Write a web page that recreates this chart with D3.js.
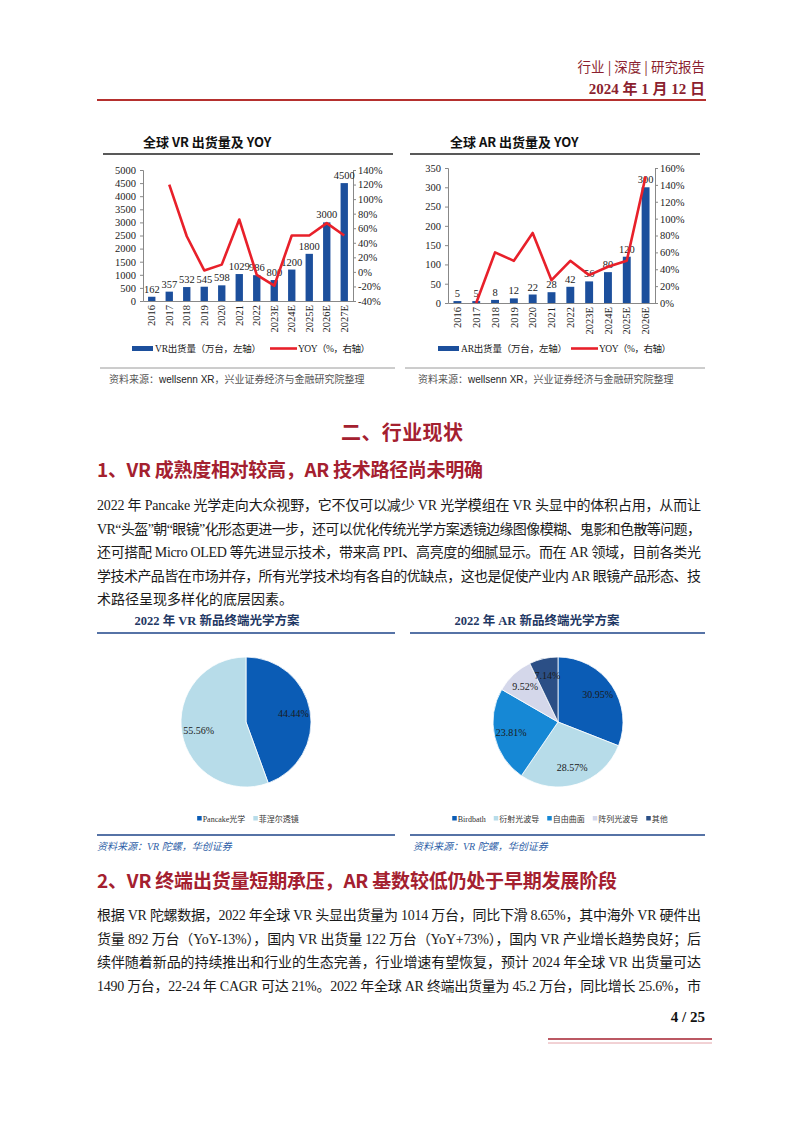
<!DOCTYPE html>
<html>
<head>
<meta charset="utf-8">
<script src="https://cdn.jsdelivr.net/npm/d3@7"></script>
<style>
    html, body { margin: 0; padding: 0; background: #fff; }
    svg { display: block; }
</style>
</head>
<body>
<div id="page"></div>
<script>
// ── Data ──
const vrYears = ['2016', '2017', '2018', '2019', '2020', '2021', '2022', '2023E', '2024E', '2025E', '2026E', '2027E'];
const vrShipments = [162, 357, 532, 545, 598, 1029, 986, 800, 1200, 1800, 3000, 4500];
const vrYoy = [null, 120, 49, 2, 10, 72, -4, -19, 50, 50, 67, 50];
const vrLeftTicks = [0, 500, 1000, 1500, 2000, 2500, 3000, 3500, 4000, 4500, 5000];
const vrRightTicks = [-40, -20, 0, 20, 40, 60, 80, 100, 120, 140];

const arYears = ['2016', '2017', '2018', '2019', '2020', '2021', '2022', '2023E', '2024E', '2025E', '2026E'];
const arShipments = [5, 5, 8, 12, 22, 28, 42, 56, 80, 120, 300];
const arYoy = [null, 0, 60, 50, 83, 27, 50, 33, 43, 50, 150];
const arLeftTicks = [0, 50, 100, 150, 200, 250, 300, 350];
const arRightTicks = [0, 20, 40, 60, 80, 100, 120, 140, 160];

const vrOptics = ['Pancake光学', '菲涅尔透镜'];
const vrOpticsShare = [44.44, 55.56];
const arOptics = ['Birdbath', '衍射光波导', '自由曲面', '阵列光波导', '其他'];
const arOpticsShare = [30.95, 28.57, 23.81, 9.52, 7.14];

const para1 = [
    '2022 年 Pancake 光学走向大众视野，它不仅可以减少 VR 光学模组在 VR 头显中的体积占用，从而让',
    'VR“头盔”朝“眼镜”化形态更进一步，还可以优化传统光学方案透镜边缘图像模糊、鬼影和色散等问题，',
    '还可搭配 Micro OLED 等先进显示技术，带来高 PPI、高亮度的细腻显示。而在 AR 领域，目前各类光',
    '学技术产品皆在市场并存，所有光学技术均有各自的优缺点，这也是促使产业内 AR 眼镜产品形态、技',
    '术路径呈现多样化的底层因素。',
];
const para2 = [
    '根据 VR 陀螺数据，2022 年全球 VR 头显出货量为 1014 万台，同比下滑 8.65%，其中海外 VR 硬件出',
    '货量 892 万台（YoY-13%），国内 VR 出货量 122 万台（YoY+73%），国内 VR 产业增长趋势良好；后',
    '续伴随着新品的持续推出和行业的生态完善，行业增速有望恢复，预计 2024 年全球 VR 出货量可达',
    '1490 万台，22-24 年 CAGR 可达 21%。2022 年全球 AR 终端出货量为 45.2 万台，同比增长 25.6%，市',
];

// ── Page setup ──
const W = 802, H = 1133;
const SERIF = '"Liberation Serif", "Noto Sans CJK SC", serif';
const SANS = '"Noto Sans CJK SC", "Liberation Sans", sans-serif';
const RED = '#a4202f';
const BAR_BLUE = '#1c4f9c';
const LINE_RED = '#e8202a';
const NAVY = '#1f3864';
const RULE_BLUE = '#5673a6';

const svg = d3.select('#page').append('svg')
    .attr('width', W)
    .attr('height', H);

// Header
svg.append('text')
    .attr('x', 705).attr('y', 72)
    .attr('text-anchor', 'end')
    .attr('font-family', SANS).attr('font-size', 13.5)
    .attr('fill', '#8b1f2f')
    .text('行业 | 深度 | 研究报告');
svg.append('text')
    .attr('x', 705).attr('y', 94)
    .attr('text-anchor', 'end')
    .attr('font-family', SERIF).attr('font-size', 15).attr('font-weight', 700)
    .attr('fill', '#8b1f2f')
    .text('2024 年 1 月 12 日');
svg.append('line')
    .attr('x1', 97).attr('x2', 706).attr('y1', 100).attr('y2', 100)
    .attr('stroke', '#b5302e').attr('stroke-width', 2.2);

// ── Bar + line combo chart ──
function drawCombo(o) {
    const g = svg.append('g');

    g.append('text')
        .attr('x', o.titleX).attr('y', 147)
        .attr('font-family', SANS).attr('font-weight', 700).attr('font-size', 13)
        .attr('fill', '#111')
        .text(o.title);
    g.append('line')
        .attr('x1', o.sepX0).attr('x2', o.sepX1).attr('y1', 154).attr('y2', 154)
        .attr('stroke', '#222').attr('stroke-width', 1.4);

    const x = d3.scaleBand().domain(o.cats).range([o.x0, o.x1])
        .paddingInner(0.58).paddingOuter(0.29);
    const yL = d3.scaleLinear().domain([o.leftTicks[0], o.leftTicks[o.leftTicks.length - 1]]).range([o.yB, o.yT]);
    const yR = d3.scaleLinear().domain([o.rightTicks[0], o.rightTicks[o.rightTicks.length - 1]]).range([o.yB, o.yT]);

    const axL = g.append('g').attr('transform', `translate(${o.x0},0)`)
        .call(d3.axisLeft(yL).tickValues(o.leftTicks).tickSize(3).tickPadding(4).tickFormat(d => String(d)));
    const axR = g.append('g').attr('transform', `translate(${o.x1},0)`)
        .call(d3.axisRight(yR).tickValues(o.rightTicks).tickSize(3).tickPadding(2).tickFormat(d => d + '%'));
    const axB = g.append('g').attr('transform', `translate(0,${o.yB})`)
        .call(d3.axisBottom(x).tickSize(0).tickSizeOuter(0));
    axB.selectAll('text')
        .attr('transform', 'rotate(-90)')
        .attr('text-anchor', 'end')
        .attr('x', -4).attr('y', 0).attr('dy', '0.35em');

    [axL, axR, axB].forEach(a => {
        a.selectAll('text')
            .attr('font-family', SERIF).attr('font-size', 10.5).attr('fill', '#222');
        a.select('.domain').attr('stroke', '#888');
        a.selectAll('.tick line').attr('stroke', '#888');
    });

    // Bars
    g.append('g').selectAll('rect')
        .data(o.values)
        .join('rect')
        .attr('x', (d, i) => x(o.cats[i]))
        .attr('y', d => yL(d))
        .attr('width', x.bandwidth())
        .attr('height', d => yL(0) - yL(d))
        .attr('fill', BAR_BLUE);

    // Value labels
    g.append('g').selectAll('text')
        .data(o.values)
        .join('text')
        .attr('x', (d, i) => x(o.cats[i]) + x.bandwidth() / 2)
        .attr('y', d => yL(d) - 4)
        .attr('text-anchor', 'middle')
        .attr('font-family', SERIF).attr('font-size', 10.5).attr('fill', '#222')
        .text(d => d);

    // YOY line
    const line = d3.line()
        .defined(d => d != null)
        .x((d, i) => x(o.cats[i]) + x.bandwidth() / 2)
        .y(d => yR(d));
    g.append('path')
        .datum(o.yoy)
        .attr('d', line)
        .attr('fill', 'none')
        .attr('stroke', LINE_RED)
        .attr('stroke-width', 2.6)
        .attr('stroke-linejoin', 'round');

    // Legend
    g.append('rect')
        .attr('x', o.legRectX).attr('y', 346).attr('width', 21).attr('height', 5)
        .attr('fill', BAR_BLUE);
    g.append('text')
        .attr('x', o.legRectX + 23).attr('y', 352)
        .attr('font-family', SERIF).attr('font-size', 9.5).attr('fill', '#222')
        .attr('textLength', 106)
        .text(o.barLegend);
    g.append('line')
        .attr('x1', o.legLineX).attr('x2', o.legLineX + 27).attr('y1', 348.5).attr('y2', 348.5)
        .attr('stroke', LINE_RED).attr('stroke-width', 2.6);
    g.append('text')
        .attr('x', o.legLineX + 28).attr('y', 352)
        .attr('font-family', SERIF).attr('font-size', 9.5).attr('fill', '#222')
        .attr('textLength', 72)
        .text('YOY（%，右轴）');

    // Bottom rule + source
    g.append('line')
        .attr('x1', o.botX0).attr('x2', o.botX1).attr('y1', 368).attr('y2', 368)
        .attr('stroke', '#9a9a9a').attr('stroke-width', 1);
    const src = g.append('text')
        .attr('x', o.srcX).attr('y', 383)
        .attr('font-family', SERIF).attr('font-size', 10).attr('fill', '#555');
    src.append('tspan').text('资料来源：');
    src.append('tspan').attr('font-family', '"Liberation Sans", sans-serif').attr('fill', '#222').text('wellsenn XR');
    src.append('tspan').text('，兴业证券经济与金融研究院整理');
}

drawCombo({
    title: '全球 VR 出货量及 YOY', titleX: 143, sepX0: 103, sepX1: 393,
    cats: vrYears, values: vrShipments, yoy: vrYoy,
    leftTicks: vrLeftTicks, rightTicks: vrRightTicks,
    x0: 143, x1: 353, yT: 170, yB: 301,
    barLegend: 'VR出货量（万台，左轴）', legRectX: 132, legLineX: 270,
    botX0: 100, botX1: 395, srcX: 109,
});

drawCombo({
    title: '全球 AR 出货量及 YOY', titleX: 450, sepX0: 410, sepX1: 700,
    cats: arYears, values: arShipments, yoy: arYoy,
    leftTicks: arLeftTicks, rightTicks: arRightTicks,
    x0: 448, x1: 655, yT: 168, yB: 303,
    barLegend: 'AR出货量（万台，左轴）', legRectX: 438, legLineX: 571,
    botX0: 405, botX1: 705, srcX: 418,
});

// ── Text blocks ──
function heading(txt, x, y, size, len, anchor) {
    const t = svg.append('text')
        .attr('x', x).attr('y', y)
        .attr('text-anchor', anchor || 'start')
        .attr('font-family', SANS).attr('font-weight', 700).attr('font-size', size)
        .attr('fill', RED)
        .text(txt);
    if (len) t.attr('textLength', len).attr('lengthAdjust', 'spacing');
}

function paragraph(lines, y0) {
    lines.forEach((ln, i) => {
        const t = svg.append('text')
            .attr('x', 97).attr('y', y0 + i * 23.6)
            .attr('font-family', SERIF).attr('font-size', 14).attr('fill', '#1a1a1a')
            .text(ln);
        if (i < lines.length - 1 || lines === para2) {
            t.attr('textLength', 604).attr('lengthAdjust', 'spacing');
        }
    });
}

heading('二、行业现状', 402, 440, 20, 122, 'middle');
heading('1、VR 成熟度相对较高，AR 技术路径尚未明确', 97, 477, 19, 386);
paragraph(para1, 510);
heading('2、VR 终端出货量短期承压，AR 基数较低仍处于早期发展阶段', 97, 888, 19, 520);
paragraph(para2, 920);

// ── Pie charts ──
function drawPie(o) {
    const g = svg.append('g');
    const R = 65;

    g.append('text')
        .attr('x', o.titleX).attr('y', 625)
        .attr('text-anchor', 'middle')
        .attr('font-family', SERIF).attr('font-weight', 700).attr('font-size', 12.5)
        .attr('fill', NAVY)
        .text(o.title);
    g.append('line')
        .attr('x1', o.ruleX0).attr('x2', o.ruleX1).attr('y1', 633).attr('y2', 633)
        .attr('stroke', RULE_BLUE).attr('stroke-width', 2);
    g.append('line')
        .attr('x1', o.ruleX0).attr('x2', o.ruleX1).attr('y1', 835).attr('y2', 835)
        .attr('stroke', RULE_BLUE).attr('stroke-width', 2);

    const arcs = d3.pie().sort(null).value(d => d)(o.values);
    const arc = d3.arc().innerRadius(0).outerRadius(R);
    const labelArc = d3.arc().innerRadius(R * 0.74).outerRadius(R * 0.74);

    const pg = g.append('g').attr('transform', `translate(${o.cx},${o.cy})`);
    pg.selectAll('path')
        .data(arcs)
        .join('path')
        .attr('d', arc)
        .attr('fill', (d, i) => o.colors[i])
        .attr('stroke', '#fff')
        .attr('stroke-width', 0.8);
    pg.selectAll('text')
        .data(arcs)
        .join('text')
        .attr('transform', d => `translate(${labelArc.centroid(d)})`)
        .attr('text-anchor', 'middle')
        .attr('dy', '0.35em')
        .attr('font-family', SERIF).attr('font-size', 10).attr('fill', '#1a1a1a')
        .text(d => d.data.toFixed(2) + '%');

    // Legend, centred under the pie
    const lg = g.append('g');
    let cx = 0;
    o.labels.forEach((lab, i) => {
        lg.append('rect')
            .attr('x', cx).attr('y', 816).attr('width', 4.5).attr('height', 4.5)
            .attr('fill', o.colors[i]);
        const t = lg.append('text')
            .attr('x', cx + 5.5).attr('y', 822)
            .attr('font-family', SERIF).attr('font-size', 8).attr('fill', '#333')
            .text(lab);
        cx += 5.5 + t.node().getComputedTextLength() + 8;
    });
    lg.attr('transform', `translate(${o.cx - (cx - 8) / 2 + 2},0)`);

    const src = g.append('text')
        .attr('x', o.srcX).attr('y', 850)
        .attr('font-family', SERIF).attr('font-size', 10).attr('font-style', 'italic')
        .attr('fill', '#2f5fa7');
    src.text('资料来源：VR 陀螺，华创证券');
}

drawPie({
    title: '2022 年 VR 新品终端光学方案', titleX: 217,
    values: vrOpticsShare, labels: vrOptics,
    colors: ['#0b5cb5', '#b7dce9'],
    cx: 246, cy: 722, ruleX0: 97, ruleX1: 395, srcX: 97,
});

drawPie({
    title: '2022 年 AR 新品终端光学方案', titleX: 537,
    values: arOpticsShare, labels: arOptics,
    colors: ['#0b5cb5', '#b7dce9', '#1688d5', '#d4d7ea', '#2b4f86'],
    cx: 558, cy: 722, ruleX0: 410, ruleX1: 705, srcX: 413,
});

// ── Footer ──
svg.append('text')
    .attr('x', 705).attr('y', 1022)
    .attr('text-anchor', 'end')
    .attr('font-family', SERIF).attr('font-size', 15).attr('font-weight', 700)
    .attr('fill', '#111')
    .text('4 / 25');
svg.append('line')
    .attr('x1', 548).attr('x2', 712).attr('y1', 1039).attr('y2', 1039)
    .attr('stroke', '#a4202f').attr('stroke-width', 1.6);
svg.append('line')
    .attr('x1', 548).attr('x2', 712).attr('y1', 1043).attr('y2', 1043)
    .attr('stroke', '#e4a4aa').attr('stroke-width', 1);
</script>
</body>
</html>
